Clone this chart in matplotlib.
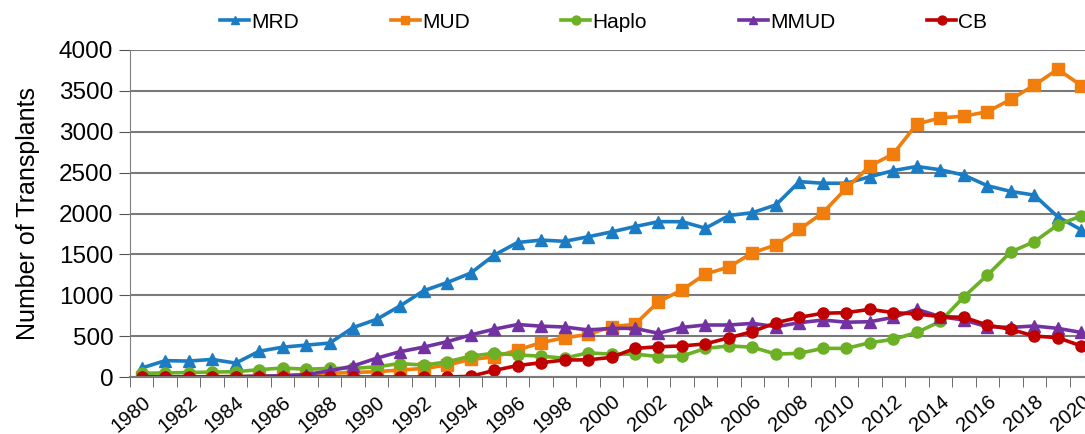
import matplotlib.pyplot as plt
import numpy as np

plt.rcParams['font.family'] = ['Liberation Sans', 'DejaVu Sans']

years = list(range(1980, 2021))
mrd = [110, 200, 195, 215, 170, 315, 365, 390, 415, 605, 705, 870, 1055, 1155, 1270,
       1490, 1645, 1675, 1660, 1715, 1775, 1840, 1900, 1900, 1820, 1975, 2010, 2105,
       2390, 2370, 2370, 2450, 2525, 2575, 2535, 2470, 2340, 2270, 2225, 1960, 1800]
mud = [0, 0, 0, 5, 5, 10, 15, 25, 45, 55, 65, 85, 105, 145, 215, 245, 330, 420, 480,
       520, 615, 645, 920, 1065, 1260, 1345, 1520, 1615, 1805, 2010, 2310, 2580, 2730,
       3095, 3170, 3190, 3245, 3395, 3570, 3765, 3565]
haplo = [45, 50, 55, 60, 65, 90, 110, 95, 105, 105, 125, 165, 145, 185, 255, 290, 270,
         255, 230, 295, 280, 280, 250, 255, 350, 380, 365, 280, 290, 350, 350, 420, 460,
         545, 680, 980, 1245, 1530, 1655, 1860, 1970]
mmud = [0, 0, 0, 0, 5, 10, 15, 30, 75, 135, 230, 310, 365, 432, 514, 585, 642, 622, 612,
        575, 595, 595, 535, 607, 636, 636, 656, 615, 664, 697, 670, 676, 730, 828, 738,
        697, 615, 607, 624, 595, 545]
cb = [0, 0, 0, 0, 0, 0, 0, 0, 0, 0, 0, 0, 0, 0, 8, 80, 140, 175, 208, 210, 240, 350,
      370, 380, 405, 480, 555, 664, 730, 780, 787, 828, 787, 771, 738, 730, 636, 583,
      501, 481, 380]

labels = ['MRD', 'MUD', 'Haplo', 'MMUD', 'CB']
colors = ['#1b7cc3', '#f07d0c', '#6cb025', '#7232a2', '#c00000']
markers = ['^', 's', 'o', '^', 'o']
series = [mrd, mud, haplo, mmud, cb]

fig = plt.figure(figsize=(10.85, 4.34), dpi=100)
ax = fig.add_axes([130/1085, 57/434, 963/1085, 327/434])

for i in range(5):
    ax.plot(years, series[i], color=colors[i], marker=markers[i], label=labels[i],
            linewidth=2.6, markersize=8)

ax.set_xlim(1979.5, 2020.5)
ax.set_ylim(0, 4000)
ax.set_yticks(range(0, 4001, 500))
ax.set_xticks(years[::2])
ax.set_xticks([y - 0.5 for y in years] + [2020.5], minor=True)
ax.tick_params(axis='x', which='major', length=0, labelsize=14.5, pad=11)
ax.tick_params(axis='x', which='minor', length=7, color='#555555', direction='out')
ax.tick_params(axis='y', length=8, color='#555555', labelsize=17.5, pad=4)
for lab in ax.get_xticklabels():
    lab.set_rotation(40)
    lab.set_ha('right')
    lab.set_va('top')
    lab.set_rotation_mode('anchor')

ax.grid(axis='y', color='#7a7a7a', linewidth=1.5)
ax.set_axisbelow(True)
for s in ['top', 'right']:
    ax.spines[s].set_visible(False)
ax.spines['left'].set_color('#808080')
ax.spines['bottom'].set_color('#7a7a7a')
ax.spines['bottom'].set_linewidth(1.5)

ax.set_ylabel('Number of Transplants', fontsize=18, labelpad=14)

fig.legend(loc='center left', bbox_to_anchor=(220/1085, 1 - 22/434), ncol=5, frameon=False,
           fontsize=15, handlelength=1.4, handletextpad=0.1, columnspacing=4.4,
           borderpad=0, borderaxespad=0, markerscale=0.8)

fig.savefig('out.png', dpi=100)
